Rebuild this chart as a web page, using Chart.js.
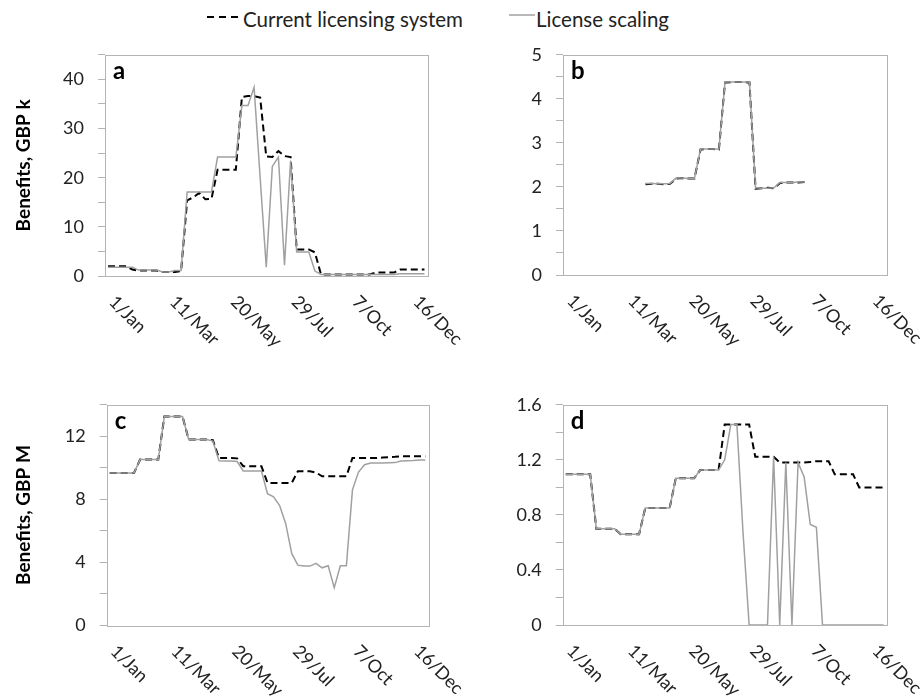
<!DOCTYPE html>
<html>
<head>
<meta charset="utf-8">
<script src="https://cdn.jsdelivr.net/npm/chart.js@4.4.1/dist/chart.umd.min.js"></script>
<style>
  body { margin: 0; background: #fff; font-family: Lato, sans-serif; }
  #page { position: relative; width: 920px; height: 700px; overflow: hidden; }
  .box { position: absolute; }
  .leg { position: absolute; top: 7px; font-size: 20.5px; line-height: 24px; color: #222; white-space: nowrap; }
</style>
</head>
<body>
<div id="page">
  <svg class="box" style="left:206px;top:13px" width="38" height="8"><line x1="1" y1="4" x2="37" y2="4" stroke="#000" stroke-width="2" stroke-dasharray="7 5"/></svg>
  <div class="leg" style="left:243px">Current licensing system</div>
  <svg class="box" style="left:508px;top:11px" width="28" height="8"><line x1="1" y1="4" x2="27" y2="4" stroke="#a0a0a0" stroke-width="1.5"/></svg>
  <div class="leg" style="left:536px">License scaling</div>

  <div class="box" style="left:0;top:30px"><canvas id="chartA" width="470" height="340"></canvas></div>
  <div class="box" style="left:460px;top:30px"><canvas id="chartB" width="460" height="340"></canvas></div>
  <div class="box" style="left:0;top:380px"><canvas id="chartC" width="470" height="320"></canvas></div>
  <div class="box" style="left:460px;top:380px"><canvas id="chartD" width="460" height="320"></canvas></div>
</div>
<script>
// weekly points, week 0 = 1 Jan
const weeks = [...Array(53).keys()];
const tickWeeks = [0, 10, 20, 30, 40, 50];
const tickLabels = ['1/Jan', '11/Mar', '20/May', '29/Jul', '7/Oct', '16/Dec'];

// a: benefits, GBP k
const aCurrent = [2.0, 2.0, 2.0, 2.0, 1.3, 1.1, 1.1, 1.1, 1.1, 0.8, 0.8, 0.8, 1.0,
  15.4, 16.0, 16.9, 15.6, 15.7, 21.6, 21.6, 21.6, 21.6, 36.4, 36.6, 36.6, 36.3,
  24.3, 24.2, 25.4, 24.4, 24.2, 5.4, 5.4, 5.4, 4.8,
  0.3, 0.3, 0.3, 0.3, 0.3, 0.3, 0.3, 0.3, 0.3, 0.7, 0.7, 0.7, 0.7, 1.3, 1.3, 1.3, 1.3, 1.3];
const aScaling = [1.8, 1.8, 1.8, 1.8, 1.8, 1.2, 1.2, 1.2, 1.2, 0.8, 0.8, 1.1, 1.1,
  17.1, 17.1, 17.1, 17.1, 17.1, 24.2, 24.2, 24.2, 24.2, 34.7, 34.7, 38.4, 20.0,
  1.8, 22.3, 24.2, 2.2, 23.5, 4.9, 4.9, 4.9, 1.0,
  0.3, 0.3, 0.3, 0.3, 0.3, 0.3, 0.3, 0.3, 0.3, 0.3, 0.3, 0.3, 0.3, 0.45, 0.45, 0.45, 0.45, 0.45];

// b: benefits, GBP k
const bCurrent = [null, null, null, null, null, null, null, null, null, null, null, null, null,
  2.06, 2.07, 2.07, 2.06, 2.07, 2.19, 2.2, 2.19, 2.19, 2.85, 2.86, 2.86, 2.85,
  4.37, 4.38, 4.38, 4.38, 4.37, 1.96, 1.97, 1.98, 1.97, 2.09, 2.1, 2.1, 2.1, 2.11,
  null, null, null, null, null, null, null, null, null, null, null, null, null];
const bScaling = [null, null, null, null, null, null, null, null, null, null, null, null, null,
  2.08, 2.08, 2.07, 2.07, 2.08, 2.2, 2.2, 2.19, 2.19, 2.86, 2.86, 2.86, 2.86,
  4.38, 4.38, 4.38, 4.38, 4.38, 1.98, 1.97, 1.97, 1.98, 2.1, 2.1, 2.1, 2.11, 2.11,
  null, null, null, null, null, null, null, null, null, null, null, null, null];

// c: benefits, GBP M
const cCurrent = [9.67, 9.67, 9.67, 9.67, 9.67, 10.52, 10.52, 10.52, 10.52, 13.26, 13.26, 13.26, 13.26,
  11.8, 11.8, 11.8, 11.8, 11.75, 10.62, 10.62, 10.62, 10.6, 10.1, 10.1, 10.1, 10.1,
  9.04, 9.04, 9.04, 9.04, 9.04, 9.78, 9.78, 9.78, 9.7, 9.46, 9.46, 9.46, 9.46, 9.46,
  10.62, 10.62, 10.62, 10.62, 10.62, 10.65, 10.68, 10.7, 10.73, 10.73, 10.73, 10.73, 10.73];
const cScaling = [9.67, 9.67, 9.67, 9.67, 9.67, 10.52, 10.52, 10.52, 10.52, 13.26, 13.26, 13.26, 13.26,
  11.8, 11.8, 11.8, 11.8, 11.7, 10.45, 10.43, 10.43, 10.4, 9.8, 9.8, 9.8, 9.8,
  8.36, 8.15, 7.6, 6.45, 4.55, 3.82, 3.76, 3.76, 3.93, 3.65, 3.78, 2.39, 3.78, 3.78,
  8.6, 9.73, 10.2, 10.3, 10.3, 10.3, 10.32, 10.33, 10.43, 10.45, 10.47, 10.5, 10.5];

// d: benefits, GBP M
const dCurrent = [1.095, 1.095, 1.095, 1.095, 1.095, 0.70, 0.70, 0.70, 0.70, 0.66, 0.66, 0.66, 0.66,
  0.85, 0.85, 0.85, 0.85, 0.85, 1.066, 1.066, 1.066, 1.066, 1.126, 1.126, 1.126, 1.126,
  1.456, 1.456, 1.456, 1.456, 1.456, 1.222, 1.222, 1.222, 1.222, 1.18, 1.18, 1.18, 1.18, 1.18,
  1.185, 1.19, 1.19, 1.19, 1.095, 1.095, 1.095, 1.095, 1.0, 1.0, 1.0, 1.0, 1.0];
const dScaling = [1.095, 1.095, 1.095, 1.095, 1.095, 0.70, 0.70, 0.70, 0.70, 0.66, 0.66, 0.66, 0.66,
  0.85, 0.85, 0.85, 0.85, 0.85, 1.066, 1.066, 1.066, 1.066, 1.126, 1.126, 1.126, 1.126,
  1.2, 1.456, 1.456, 0.67, 0, 0, 0, 0, 1.22, 0, 1.18, 0, 1.18,
  1.075, 0.73, 0.71, 0, 0, 0, 0, 0, 0, 0, 0, 0, 0, 0];

const FONT = 'Lato';
const AXIS_GREY = '#b4b4b4';

// frame, panel letter and slanted date labels
const panelDecor = {
  id: 'panelDecor',
  afterDraw(chart, args, opts) {
    const ctx = chart.ctx;
    const a = chart.chartArea;
    ctx.save();
    ctx.strokeStyle = AXIS_GREY;
    ctx.lineWidth = 1;
    ctx.strokeRect(Math.round(a.left) + 0.5, Math.round(a.top) + 0.5,
      Math.round(a.right - a.left), Math.round(a.bottom - a.top));

    ctx.fillStyle = '#000';
    ctx.font = 'bold 24px ' + FONT;
    ctx.textAlign = 'left';
    ctx.textBaseline = 'alphabetic';
    ctx.fillText(opts.letter, a.left + 8, a.top + 24);

    const xs = chart.scales.x;
    ctx.font = '18px ' + FONT;
    ctx.fillStyle = '#222';
    ctx.textBaseline = 'middle';
    tickWeeks.forEach((w, k) => {
      ctx.save();
      ctx.translate(xs.getPixelForValue(w) + 4, a.bottom + 23);
      ctx.rotate(Math.PI / 4);
      ctx.fillText(tickLabels[k], 0, 0);
      ctx.restore();
    });
    ctx.restore();
  }
};

function makePanel(id, letter, current, scaling, yMax, yStep, labelStep, yTitle, area) {
  const canvas = document.getElementById(id);
  const W = canvas.width, H = canvas.height;
  return new Chart(canvas, {
    type: 'line',
    data: {
      labels: weeks,
      datasets: [
        {
          label: 'License scaling',
          data: scaling,
          borderColor: '#a0a0a0',
          borderWidth: 1.5,
          pointRadius: 0,
          tension: 0,
        },
        {
          label: 'Current licensing system',
          data: current,
          borderColor: '#000',
          borderWidth: 2,
          borderDash: [7, 4],
          pointRadius: 0,
          tension: 0,
        },
      ],
    },
    options: {
      responsive: false,
      animation: false,
      layout: { padding: { left: 0, top: area.top, right: W - area.right, bottom: 0 } },
      plugins: {
        legend: { display: false },
        tooltip: { enabled: false },
        panelDecor: { letter: letter },
      },
      scales: {
        x: {
          type: 'category',
          offset: true,
          afterFit: (s) => { s.height = H - area.bottom; },
          ticks: { display: false },
          grid: { display: false, drawTicks: false },
          border: { display: false },
        },
        y: {
          min: 0,
          max: yMax,
          afterFit: (s) => { s.width = area.left; },
          ticks: {
            stepSize: yStep,
            autoSkip: false,
            padding: 14,
            color: '#222',
            font: { family: FONT, size: 18 },
            callback: (v) => {
              const r = v / labelStep;
              return Math.abs(r - Math.round(r)) < 1e-6 ? String(+v.toFixed(2)) : '';
            },
          },
          grid: { drawOnChartArea: false, tickLength: 7, color: AXIS_GREY },
          border: { display: false },
          title: {
            display: !!yTitle,
            text: yTitle,
            color: '#000',
            font: { family: FONT, size: 19, weight: 'bold' },
            padding: { top: 12, bottom: 0 },
          },
        },
      },
    },
    plugins: [panelDecor],
  });
}

makePanel('chartA', 'a', aCurrent, aScaling, 45, 5, 10, 'Benefits, GBP k', { left: 105, top: 23, right: 427.5, bottom: 246 });
makePanel('chartB', 'b', bCurrent, bScaling, 5, 0.5, 1, '', { left: 103, top: 23, right: 427, bottom: 245 });
makePanel('chartC', 'c', cCurrent, cScaling, 14, 2, 4, 'Benefits, GBP M', { left: 106.7, top: 24.3, right: 428.3, bottom: 245.3 });
makePanel('chartD', 'd', dCurrent, dScaling, 1.6, 0.2, 0.4, '', { left: 102.7, top: 23.3, right: 426.7, bottom: 245 });
</script>
</body>
</html>
